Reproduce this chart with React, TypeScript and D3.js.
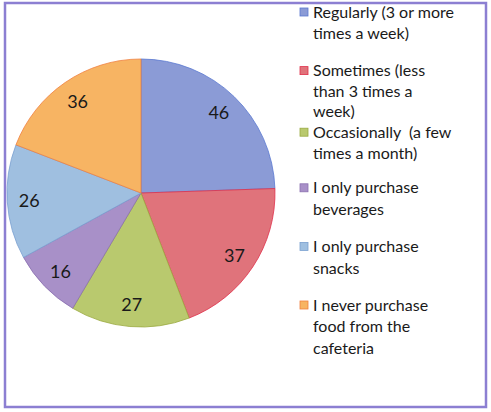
import * as React from 'react';
import * as d3 from 'd3';

const categories = [
  ['Regularly (3 or more', 'times a week)'],
  ['Sometimes (less', 'than 3 times a', 'week)'],
  ['Occasionally  (a few', 'times a month)'],
  ['I only purchase', 'beverages'],
  ['I only purchase', 'snacks'],
  ['I never purchase', 'food from the', 'cafeteria'],
];
const values = [46, 37, 27, 16, 26, 36];
const colors = ['#8b9bd6', '#e0737b', '#b9c96e', '#a890c8', '#9fbfe0', '#f7b463'];
const edges = ['#5a78d0', '#e0304a', '#9aaa40', '#8a70b0', '#7aa0d0', '#f08040'];

const W = 491;
const H = 412;

export default function App() {
  const ref = React.useRef<SVGSVGElement>(null);

  React.useEffect(() => {
    const svg = d3.select(ref.current);
    svg.selectAll('*').remove();

    svg.append('rect').attr('width', W).attr('height', H).attr('fill', '#fff');
    // frame
    svg.append('rect')
      .attr('x', 5).attr('y', 3)
      .attr('width', 481).attr('height', 404)
      .attr('fill', 'none')
      .attr('stroke', '#8c7fd2')
      .attr('stroke-width', 2.5);

    const cx = 141, cy = 193, R = 134;
    const g = svg.append('g').attr('transform', `translate(${cx},${cy})`);
    const pie = d3.pie<number>().sort(null).value(d => d);
    const arcs = pie(values);
    const arc = d3.arc<d3.PieArcDatum<number>>().innerRadius(0).outerRadius(R);
    const labelArc = d3.arc<d3.PieArcDatum<number>>().innerRadius(112).outerRadius(112);

    g.selectAll('path.slice')
      .data(arcs)
      .enter()
      .append('path')
      .attr('class', 'slice')
      .attr('d', arc)
      .attr('fill', (d, i) => colors[i])
      .attr('stroke', (d, i) => edges[i])
      .attr('stroke-width', 0.8);

    g.selectAll('text.val')
      .data(arcs)
      .enter()
      .append('text')
      .attr('class', 'val')
      .attr('transform', d => `translate(${labelArc.centroid(d)})`)
      .attr('text-anchor', 'middle')
      .attr('dy', '0.38em')
      .attr('font-family', 'Lato, sans-serif')
      .attr('font-size', 18)
      .attr('fill', '#1a1a1a')
      .text(d => d.data);

    // legend
    const legend = svg.append('g').attr('font-family', 'Lato, sans-serif').attr('font-size', 16).attr('fill', '#1a1a1a');
    const itemY = d3.scaleLinear().domain([0, 5]).range([12, 305]);
    categories.forEach((lines, i) => {
      const y = itemY(i) + (i === 2 ? 3 : 0);
      const lh = lines.length > 2 && i === 1 ? 20.5 : 21.5;
      legend.append('rect')
        .attr('x', 300).attr('y', y - 4)
        .attr('width', 8).attr('height', 8)
        .attr('fill', colors[i])
        .attr('stroke', edges[i])
        .attr('stroke-width', 0.8);
      const t = legend.append('text').attr('x', 313).attr('y', y);
      lines.forEach((l, j) => {
        t.append('tspan')
          .attr('x', 313)
          .attr('dy', j === 0 ? '0.35em' : lh)
          .style('white-space', 'pre')
          .text(l);
      });
    });
  }, []);

  return (
    <svg
      ref={ref}
      width={W}
      height={H}
      style={{ position: 'absolute', left: 0, top: 0 }}
    />
  );
}
